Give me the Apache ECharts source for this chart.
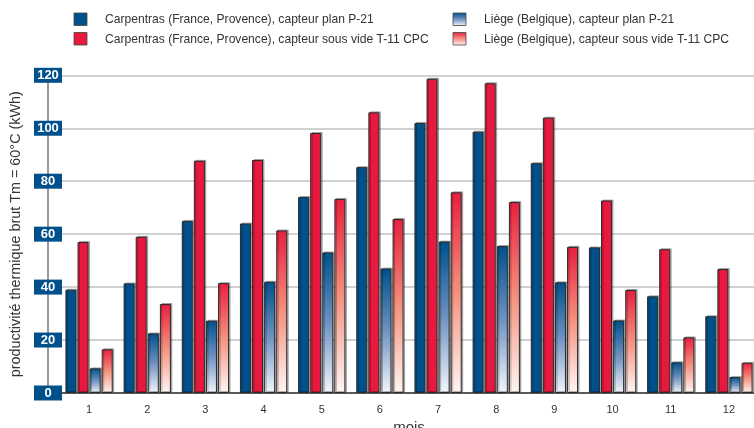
<!DOCTYPE html>
<html><head><meta charset="utf-8">
<script src="https://cdn.jsdelivr.net/npm/echarts@6/dist/echarts.min.js"></script>
<style>html,body{margin:0;padding:0;background:#fff}#c{width:754px;height:428px}</style>
</head><body><div id="c"></div>
<script>
const months = ['1','2','3','4','5','6','7','8','9','10','11','12'];
const yTicks = [0,20,40,60,80,100,120];
const seriesNames = [
  'Carpentras (France, Provence), capteur plan P-21',
  'Carpentras (France, Provence), capteur sous vide T-11 CPC',
  'Liège (Belgique), capteur plan P-21',
  'Liège (Belgique), capteur sous vide T-11 CPC'
];
const carpentrasPlan = [39, 41.4, 65, 64, 74, 85.3, 102, 98.7, 86.8, 55, 36.5, 29];
const carpentrasVide = [57, 59, 87.7, 88, 98.2, 106, 118.7, 117, 104, 72.7, 54.3, 46.8];
const liegePlan = [9.3, 22.5, 27.3, 42, 53.1, 47, 57.2, 55.5, 41.8, 27.4, 11.6, 6];
const liegeVide = [16.5, 33.6, 41.5, 61.4, 73.3, 65.7, 75.8, 72.1, 55.2, 38.9, 21, 11.4];

const BLUE = '#00508c', RED = '#e8193f';
function gBlue(){ return new echarts.graphic.LinearGradient(0,0,0,1,[
  {offset:0,color:'#00508c'},{offset:0.5,color:'#6f92c2'},{offset:1,color:'#f3f6fb'}]); }
function gRed(){ return new echarts.graphic.LinearGradient(0,0,0,1,[
  {offset:0,color:'#e8203f'},{offset:0.5,color:'#f4917f'},{offset:1,color:'#fff6f3'}]); }
const colors = [BLUE, RED, gBlue(), gRed()];

function bar(name, data, color){
  return {
    name, type:'bar', data, barWidth:11, barGap:'10%',
    itemStyle:{color, borderColor:'#2a2a2a', borderWidth:1,
      shadowColor:'rgba(0,0,0,0.28)', shadowOffsetX:1.5, shadowOffsetY:-1, shadowBlur:0},
    emphasis:{disabled:true}
  };
}
// legend drawn as graphic (slightly narrowed text)
const legendPos = [[74,13],[74,32.5],[453,13],[453,32.5]];
const legendColorsFn = [()=>BLUE, ()=>RED, gBlue, gRed];
const graphics = [];
seriesNames.forEach((n,i)=>{
  const [lx,ly] = legendPos[i];
  graphics.push({type:'rect', shape:{x:lx, y:ly, width:13, height:12.5},
    style:{fill:legendColorsFn[i](), stroke:'#444', lineWidth:0.8}});
  graphics.push({type:'text', x:lx+31, y:ly+6.5, scaleX:0.93,
    style:{text:n, fill:'#333', fontSize:13, fontFamily:"'Liberation Sans',sans-serif", verticalAlign:'middle', align:'left'}});
});

const chart = echarts.init(document.getElementById('c'), null, {renderer:'canvas'});
chart.setOption({
  animation:false,
  graphic: graphics,
  grid:{left:60, width:698, top:75.3, bottom:35, containLabel:false, outerBoundsMode:'none'},
  xAxis:{type:'category', data:months, boundaryGap:true,
    axisLine:{lineStyle:{color:'#333', width:1.5}}, axisTick:{show:false},
    axisLabel:{color:'#333', fontSize:11, margin:11, fontFamily:"'Liberation Sans',sans-serif"},
    name:'mois', nameLocation:'middle', nameGap:22,
    nameTextStyle:{fontSize:15, color:'#333', fontFamily:"'Liberation Sans',sans-serif"}},
  yAxis:{type:'value', min:yTicks[0], max:yTicks[yTicks.length-1], interval:20, offset:12,
    axisLine:{show:true, lineStyle:{color:'#777', width:1.5}}, axisTick:{show:false},
    splitLine:{lineStyle:{color:'#c2c2c2', width:1.5}},
    axisLabel:{margin:0, align:'center', color:'#fff', fontWeight:'bold', fontSize:13,
      fontFamily:"'Liberation Sans',sans-serif",
      backgroundColor:BLUE, padding:[1,4,0,4], width:20, lineHeight:14},
    name:'productivité thermique brut Tm = 60°C (kWh)', nameLocation:'middle', nameGap:18, nameRotate:90,
    nameTextStyle:{fontSize:14.4, color:'#333', fontFamily:"'Liberation Sans',sans-serif"}},
  series:[
    bar(seriesNames[0], carpentrasPlan, colors[0]),
    bar(seriesNames[1], carpentrasVide, colors[1]),
    bar(seriesNames[2], liegePlan, colors[2]),
    bar(seriesNames[3], liegeVide, colors[3])
  ]
});
</script></body></html>
